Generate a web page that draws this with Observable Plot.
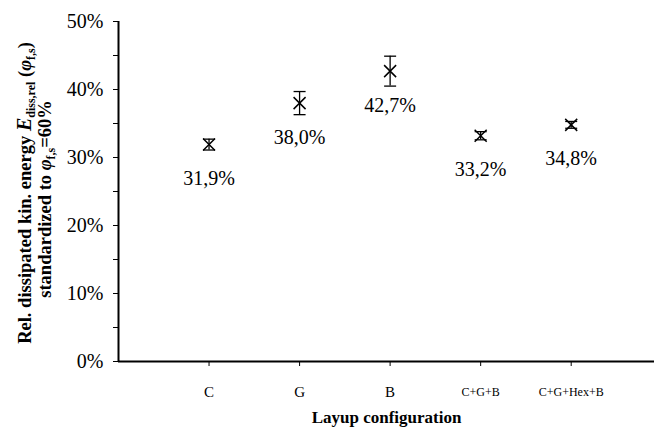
<!DOCTYPE html>
<html><head><meta charset="utf-8">
<script src="https://cdn.jsdelivr.net/npm/d3@7"></script>
<script src="https://cdn.jsdelivr.net/npm/@observablehq/plot@0.6"></script>
<style>body{margin:0;background:#fff} svg{display:block}</style>
</head><body><div id="chart"></div>
<script>
const categories = ["C", "G", "B", "C+G+B", "C+G+Hex+B"];
const values = [31.9, 38.0, 42.7, 33.2, 34.8];
const errors = [0.8, 1.7, 2.2, 0.6, 0.5];
const yTicks = [0, 10, 20, 30, 40, 50];
const yMinorTicks = [5, 15, 25, 35, 45];

const data = categories.map((c, i) => ({cat: c, pos: i + 1, v: values[i], e: errors[i]}));
const capSymbol = {draw(ctx, size) {const r = Math.sqrt(size / Math.PI); ctx.moveTo(-r, 0); ctx.lineTo(r, 0);}};
const crossSymbol = {draw(ctx, size) {const r = Math.sqrt(size / Math.PI); ctx.moveTo(-r, -r); ctx.lineTo(r, r); ctx.moveTo(-r, r); ctx.lineTo(r, -r);}};
const fmt = v => v.toFixed(1).replace(".", ",") + "%";
const FONT = "'Liberation Serif','Times New Roman',serif";

const plot = Plot.plot({
  width: 654, height: 435,
  marginLeft: 118, marginRight: 0, marginTop: 21, marginBottom: 74,
  style: {fontFamily: FONT, background: "#fff", color: "#000"},
  x: {domain: [0, 5.92], axis: null, label: null},
  y: {domain: [0, 50], axis: null, label: null},
  marks: [
    Plot.axisY({ticks: yMinorTicks, tickSize: 5, tickFormat: () => "", label: null}),
    Plot.axisY({ticks: yTicks, tickSize: 5, tickPadding: 10, tickFormat: d => d + "%", fontSize: 20, label: null}),
    Plot.axisX({ticks: [1, 2, 3, 4, 5], tickSize: 5, tickFormat: () => "", label: null}),
    Plot.ruleX([0], {stroke: "#000", strokeWidth: 2}),
    Plot.ruleY([0], {stroke: "#000", strokeWidth: 2}),
    Plot.text(data, {x: "pos", y: () => 0, text: "cat", dy: 31, fontSize: d => d.cat.length > 1 ? 12 : 15}),
    Plot.ruleX(data, {x: "pos", y1: d => d.v - d.e, y2: d => d.v + d.e, stroke: "#000", strokeWidth: 1.3}),
    Plot.dot(data, {x: "pos", y: d => d.v - d.e, symbol: capSymbol, r: 6, stroke: "#000", strokeWidth: 1.3}),
    Plot.dot(data, {x: "pos", y: d => d.v + d.e, symbol: capSymbol, r: 6, stroke: "#000", strokeWidth: 1.3}),
    Plot.dot(data, {x: "pos", y: "v", symbol: crossSymbol, r: 6, stroke: "#000", strokeWidth: 1.5}),
    Plot.text(data, {x: "pos", y: "v", text: d => fmt(d.v), dy: 34, fontSize: 20}),
    Plot.text(["Layup configuration"], {frameAnchor: "bottom", dy: 61, fontSize: 17, fontWeight: "bold"})
  ]
});
document.getElementById("chart").appendChild(plot);

// y-axis title (two lines, rotated)
const svg = d3.select(plot);
const g = svg.append("g").attr("font-family", FONT).attr("font-weight", "bold").attr("font-size", 18.5).attr("fill", "#000");
const t1 = g.append("text").attr("transform", "translate(31,193) rotate(-90)").attr("text-anchor", "middle");
t1.append("tspan").text("Rel. dissipated kin. energy ");
t1.append("tspan").attr("font-style", "italic").attr("font-size", 20).text("E");
t1.append("tspan").attr("font-size", 12).attr("dy", 4).text("diss,rel");
t1.append("tspan").attr("dy", -4).text(" (");
t1.append("tspan").attr("font-style", "italic").text("φ");
t1.append("tspan").attr("font-size", 12).attr("dy", 4).text("f,s");
t1.append("tspan").attr("dy", -4).text(")");
const t2 = g.append("text").attr("transform", "translate(51,199) rotate(-90)").attr("text-anchor", "middle");
t2.append("tspan").text("standardized to ");
t2.append("tspan").attr("font-style", "italic").text("φ");
t2.append("tspan").attr("font-size", 12).attr("dy", 4).text("f,s");
t2.append("tspan").attr("dy", -4).text("=60%");
</script>
</body></html>
